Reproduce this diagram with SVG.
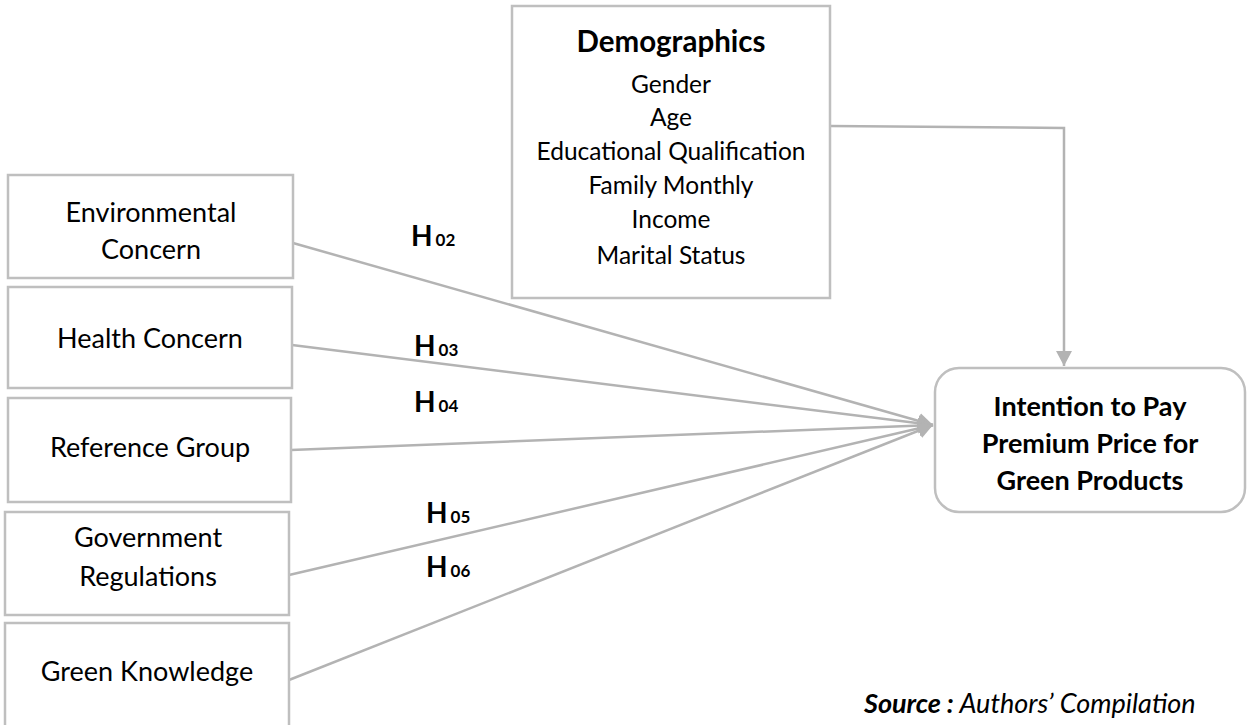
<svg xmlns="http://www.w3.org/2000/svg" width="1247" height="725" viewBox="0 0 1247 725">
  <style>
    .box { fill: #ffffff; stroke: #bfbfbf; stroke-width: 2.5; }
    .lbl { font-family: Lato, "Open Sans", sans-serif; font-size: 27px; fill: #000000; text-anchor: middle; }
    .demo { font-size: 24.5px; }
    .bold { font-weight: bold; }
    .hyp { font-family: Lato, "Open Sans", sans-serif; font-weight: bold; font-size: 28px; fill: #000000; }
    .hyp tspan.sub { font-size: 17px; }
    .conn { fill: none; stroke: #b3b3b3; stroke-width: 2.5; }
    .src { font-family: Lato, "Open Sans", sans-serif; font-size: 27px; font-style: italic; fill: #000000; }
  </style>
  <defs>
    <marker id="arrow" markerUnits="userSpaceOnUse" markerWidth="16" markerHeight="16" viewBox="0 0 16 16" refX="15" refY="8" orient="auto">
      <path d="M0,0 L15,8 L0,16 Z" fill="#b3b3b3"/>
    </marker>
  </defs>

  <!-- connectors -->
  <g id="connectors">
    <path class="conn" d="M830,126 L1064,128 L1064,366" marker-end="url(#arrow)"/>
    <line class="conn" x1="293" y1="243" x2="933" y2="425" marker-end="url(#arrow)"/>
    <line class="conn" x1="292" y1="345" x2="933" y2="425" marker-end="url(#arrow)"/>
    <line class="conn" x1="291" y1="450" x2="933" y2="425" marker-end="url(#arrow)"/>
    <line class="conn" x1="289" y1="575" x2="933" y2="425" marker-end="url(#arrow)"/>
    <line class="conn" x1="289" y1="680" x2="933" y2="425" marker-end="url(#arrow)"/>
  </g>

  <!-- hypothesis labels -->
  <g id="hypotheses">
    <text class="hyp" x="411" y="246">H<tspan class="sub" dx="3">02</tspan></text>
    <text class="hyp" x="414" y="356">H<tspan class="sub" dx="3">03</tspan></text>
    <text class="hyp" x="414" y="412">H<tspan class="sub" dx="3">04</tspan></text>
    <text class="hyp" x="426" y="523">H<tspan class="sub" dx="3">05</tspan></text>
    <text class="hyp" x="426" y="577">H<tspan class="sub" dx="3">06</tspan></text>
  </g>

  <!-- independent variables -->
  <g id="environmental-concern">
    <rect class="box" x="8" y="175" width="285" height="103"/>
    <text class="lbl" x="151" y="222">Environmental</text>
    <text class="lbl" x="151" y="259">Concern</text>
  </g>
  <g id="health-concern">
    <rect class="box" x="8" y="287" width="284" height="101"/>
    <text class="lbl" x="150" y="348">Health Concern</text>
  </g>
  <g id="reference-group">
    <rect class="box" x="8" y="398" width="283" height="104"/>
    <text class="lbl" x="150" y="457">Reference Group</text>
  </g>
  <g id="government-regulations">
    <rect class="box" x="5" y="512" width="284" height="103"/>
    <text class="lbl" x="148" y="547">Government</text>
    <text class="lbl" x="148" y="586">Regulations</text>
  </g>
  <g id="green-knowledge">
    <rect class="box" x="5" y="623" width="284" height="110"/>
    <text class="lbl" x="147" y="681">Green Knowledge</text>
  </g>

  <!-- demographics -->
  <g id="demographics">
    <rect class="box" x="512" y="6" width="318" height="292"/>
    <text class="lbl bold" x="671" y="52" style="font-size:29.5px">Demographics</text>
    <text class="lbl demo" x="671" y="93">Gender</text>
    <text class="lbl demo" x="671" y="126">Age</text>
    <text class="lbl demo" x="671" y="160">Educational Qualification</text>
    <text class="lbl demo" x="671" y="194">Family Monthly</text>
    <text class="lbl demo" x="671" y="228">Income</text>
    <text class="lbl demo" x="671" y="264">Marital Status</text>
  </g>

  <!-- dependent variable -->
  <g id="intention">
    <rect class="box" x="935" y="368" width="310" height="144" rx="24" ry="24"/>
    <text class="lbl bold" x="1090" y="416">Intention to Pay</text>
    <text class="lbl bold" x="1090" y="453">Premium Price for</text>
    <text class="lbl bold" x="1090" y="490">Green Products</text>
  </g>

  <!-- source note -->
  <g id="source">
    <text class="src" x="864" y="713"><tspan font-weight="bold">Source :</tspan> Authors’ Compilation</text>
  </g>
</svg>
